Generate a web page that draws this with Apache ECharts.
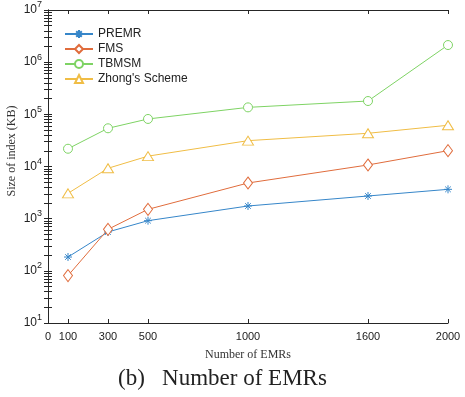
<!DOCTYPE html>
<html>
<head>
<meta charset="utf-8">
<script src="https://cdn.jsdelivr.net/npm/echarts@6/dist/echarts.min.js"></script>
<style>
  html, body { margin: 0; padding: 0; background: #fff; }
  #chart { width: 465px; height: 397px; }
</style>
</head>
<body>
<div id="chart"></div>
<script>
// x 值 (EMR 数量)
var emrCounts = [100, 300, 500, 1000, 1600, 2000]
var xTicks = [0, 100, 300, 500, 1000, 1600, 2000]
var yTicks = [10, 100, 1000, 10000, 100000, 1000000, 10000000]

// 各方案索引大小 (KB)
var premr = [184, 556, 915, 1750, 2720, 3650]
var fms = [81, 625, 1510, 4830, 10700, 20100]
var tbmsm = [21900, 54000, 81500, 136000, 180000, 2130000]
var zhong = [3060, 9250, 15800, 31300, 43300, 61700]

var seriesNames = ['PREMR', 'FMS', 'TBMSM', "Zhong's Scheme"]
var seriesColors = ['#3686c9', '#e06c3c', '#7ed364', '#f0bd45']

// 对数轴刻度: 主刻度 + 次刻度 2..9
function allLogTicks() {
    var arr = yTicks.slice()
    for (var e = 1; e < 7; e++) {
        for (var k = 2; k < 10; k++) arr.push(k * Math.pow(10, e))
    }
    return arr
}

function pairs(vals) {
    var out = []
    for (var i = 0; i < emrCounts.length; i++) out.push([emrCounts[i], vals[i]])
    return out
}

var asterisk = 'path://M5 0L5 10M0 5L10 5M1.5 1.5L8.5 8.5M8.5 1.5L1.5 8.5'

var chart = echarts.init(document.getElementById('chart'))
var axisColor = '#262626'

function lineSeries(idx, vals, symbol, size) {
    return {
        name: seriesNames[idx],
        type: 'line',
        data: pairs(vals),
        symbol: symbol,
        symbolSize: size,
        showAllSymbol: true,
        lineStyle: { color: seriesColors[idx], width: 1 },
        itemStyle: { color: '#fff', borderColor: seriesColors[idx], borderWidth: 1 },
        emphasis: { disabled: true },
        z: 3
    }
}

var option = {
    animation: false,
    textStyle: { fontFamily: 'Liberation Sans' },
    title: {
        text: '(b)   Number of EMRs',
        left: 113,
        top: 362,
        textStyle: { fontFamily: 'Liberation Serif', fontWeight: 'normal', fontSize: 23, color: '#222' }
    },
    graphic: [
        {
            type: 'text',
            x: 12,
            y: 151,
            rotation: Math.PI / 2,
            style: {
                text: 'Size of index (KB)',
                fontFamily: 'Liberation Serif',
                fontSize: 12,
                fill: '#333',
                align: 'center',
                verticalAlign: 'middle'
            }
        }
    ],
    legend: {
        orient: 'vertical',
        left: 59,
        top: 23,
        itemWidth: 28,
        itemHeight: 10,
        itemGap: 3,
        data: seriesNames,
        textStyle: { fontSize: 12, color: '#222', fontFamily: 'Liberation Sans' }
    },
    grid: { left: 48, right: 17, top: 10, bottom: 74 },
    xAxis: [
        {
            type: 'value',
            min: 0,
            max: 2000,
            name: 'Number of EMRs',
            nameLocation: 'middle',
            nameGap: 26,
            nameTextStyle: { fontFamily: 'Liberation Serif', fontSize: 12, color: '#333' },
            axisLine: { lineStyle: { color: axisColor } },
            axisTick: { inside: true, length: 4, customValues: xTicks, lineStyle: { color: axisColor } },
            axisLabel: {
                customValues: xTicks,
                fontSize: 11,
                color: '#222',
                margin: 8,
                formatter: function (v) { return String(v) }
            },
            splitLine: { show: false }
        },
        {
            type: 'value',
            min: 0,
            max: 2000,
            position: 'top',
            axisLine: { lineStyle: { color: axisColor } },
            axisTick: { inside: true, length: 4, customValues: xTicks, lineStyle: { color: axisColor } },
            axisLabel: { show: false },
            splitLine: { show: false }
        }
    ],
    yAxis: [
        {
            type: 'log',
            logBase: 10,
            min: 10,
            max: 10000000,
            axisLine: { show: true, lineStyle: { color: axisColor } },
            axisTick: { inside: true, length: 4, customValues: allLogTicks(), lineStyle: { color: axisColor } },
            axisLabel: {
                customValues: yTicks,
                color: '#222',
                margin: 6,
                formatter: function (v) {
                    return '10{sup|' + Math.round(Math.log10(v)) + '}'
                },
                rich: {
                    sup: { fontSize: 9, verticalAlign: 'bottom', padding: [0, 0, 10, 0], color: '#222' }
                },
                fontSize: 12
            },
            splitLine: { show: false }
        },
        {
            type: 'log',
            logBase: 10,
            min: 10,
            max: 10000000,
            position: 'right',
            axisLine: { show: true, lineStyle: { color: axisColor } },
            axisTick: { inside: true, length: 4, customValues: allLogTicks(), lineStyle: { color: axisColor } },
            axisLabel: { show: false },
            splitLine: { show: false }
        }
    ],
    series: [
        lineSeries(0, premr, asterisk, 8),
        lineSeries(1, fms, 'diamond', [9, 12]),
        lineSeries(2, tbmsm, 'circle', 9),
        lineSeries(3, zhong, 'triangle', [11, 9])
    ]
}

chart.setOption(option)
</script>
</body>
</html>
